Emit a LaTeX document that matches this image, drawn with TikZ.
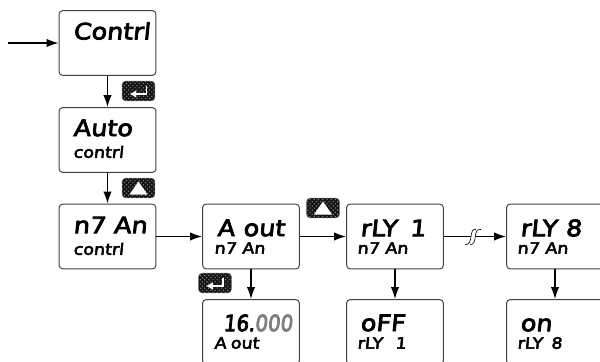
\documentclass[tikz,border=0pt]{standalone}
\usepackage{xcolor}
\usepackage{fontspec}
\setmainfont{DejaVu Sans}
\newfontfamily\segfont[FakeStretch=1.13,FakeSlant=0.1,FakeBold=3.5]{DejaVu Sans}
\newfontfamily\segnarrow[FakeStretch=0.88,FakeSlant=0.1,FakeBold=3.5]{DejaVu Sans}
\usepackage{tikz}
\usetikzlibrary{arrows.meta,patterns,calc,positioning}
\definecolor{keydark}{RGB}{20,20,20}
\tikzset{
    dispbox/.style={draw=black!75, line width=0.7pt, rounded corners=2.6pt, fill=white, minimum width=2.42cm, minimum height=1.62cm, inner sep=0pt},
    bigtxt/.style={anchor=west, inner sep=0pt, font=\fontsize{16}{17}\segfont},
    smalltxt/.style={anchor=west, inner sep=0pt, font=\fontsize{11}{12}\segfont},
    keybox/.style={draw=black!60, line width=0.3pt, preaction={fill=keydark}, pattern=crosshatch dots, pattern color=black!45, rounded corners=2.5pt, minimum width=0.82cm, minimum height=0.49cm, inner sep=0pt},
    flow/.style={draw=black, line width=1pt, -{Latex[length=3mm,width=2.1mm]}},
}
\begin{document}
\begin{tikzpicture}[x=0.025cm, y=-0.025cm]
    \useasboundingbox (0,0) rectangle (600,362);
    % display boxes
    \node[dispbox] (contrl) at (107.5,43) {};
    \node[dispbox] (auto) at (107.5,140) {};
    \node[dispbox] (man) at (107.5,236.5) {};
    \node[dispbox] (aout) at (251,236.5) {};
    \node[dispbox] (rlyone) at (395,236.5) {};
    \node[dispbox] (rlyeight) at (555,236.5) {};
    \node[dispbox] (aval) at (251,332) {};
    \node[dispbox] (rlyoff) at (395,332) {};
    \node[dispbox] (rlyon) at (555,332) {};
    \coordinate (start) at (8,43);
    % display texts
    \node[bigtxt] (contrltop) at (73,31) {Contrl};
    \node[bigtxt] (autotop) at (73,128) {Auto};
    \node[smalltxt] (autolow) at (73,152) {contrl};
    \node[bigtxt] (mantop) at (73,225) {n7 An};
    \node[smalltxt] (manlow) at (73,249) {contrl};
    \node[bigtxt] (aouttop) at (217,228) {A\hspace{6pt}out};
    \node[smalltxt] (aoutlow) at (214,248) {n7 An};
    \node[bigtxt] (rlyonetop) at (360,228) {rLY\hspace{9pt}1};
    \node[smalltxt] (rlyonelow) at (357,248) {n7 An};
    \node[bigtxt] (rlyeighttop) at (520,228) {rLY\hspace{6pt}8};
    \node[smalltxt] (rlyeightlow) at (517,248) {n7 An};
    \node[bigtxt] (avaltop) at (223,323) {\segnarrow 16.\textcolor{black!50}{000}};
    \node[smalltxt] (avallow) at (214,343) {A\hspace{3pt}out};
    \node[bigtxt] (rlyofftop) at (360,323) {oFF};
    \node[smalltxt] (rlyofflow) at (357,343) {rLY\hspace{9pt}1};
    \node[bigtxt] (rlyontop) at (520,325) {on};
    \node[smalltxt] (rlyonlow) at (517,343) {rLY\hspace{6pt}8};
    % connectors
    \draw[flow] (start) -- (contrl);
    \draw[flow] (contrl) -- (auto);
    \draw[flow] (auto) -- (man);
    \draw[flow] (man) -- (aout);
    \draw[flow] (aout) -- (rlyone);
    \draw[flow] (rlyone) -- (rlyeight);
    \draw[flow] (aout) -- (aval);
    \draw[flow] (rlyone) -- (rlyoff);
    \draw[flow] (rlyeight) -- (rlyon);
    % line break on the rly connector
    \coordinate (brk) at ($(rlyone.east)!0.47!(rlyeight.west)$);
    \fill[white] ($(brk)+(-8,8)$) .. controls ($(brk)+(1,9)$) and ($(brk)+(-5,-9)$) .. ($(brk)+(3,-7)$) -- ($(brk)+(8,-7)$) .. controls ($(brk)+(-1,-9)$) and ($(brk)+(5,9)$) .. ($(brk)+(-3,8)$) -- cycle;
    \draw[line width=0.45pt] ($(brk)+(-8,8)$) .. controls ($(brk)+(1,9)$) and ($(brk)+(-5,-9)$) .. ($(brk)+(3,-7)$);
    \draw[line width=0.45pt] ($(brk)+(-3,8)$) .. controls ($(brk)+(5,9)$) and ($(brk)+(-1,-9)$) .. ($(brk)+(8,-7)$);
    % keys
    \node[keybox] (enterone) at (138.5,91) {};
    \node[keybox] (uptwo) at (138.5,188) {};
    \node[keybox] (entertwo) at (215,283) {};
    \node[keybox] (upthree) at (323,208) {};
    \foreach \k in {enterone,entertwo} {
        \draw[white, line width=1.2pt, -{Latex[length=1.7mm,width=2mm]}] ($(\k.center)+(8,-5)$) -- ($(\k.center)+(8,3)$) -- ($(\k.center)+(-9,3)$);
    }
    \foreach \k in {uptwo,upthree} {
        \fill[white] ($(\k.center)+(-9,6.5)$) -- ($(\k.center)+(9,6.5)$) -- ($(\k.center)+(0,-6.5)$) -- cycle;
    }
\end{tikzpicture}
\end{document}
